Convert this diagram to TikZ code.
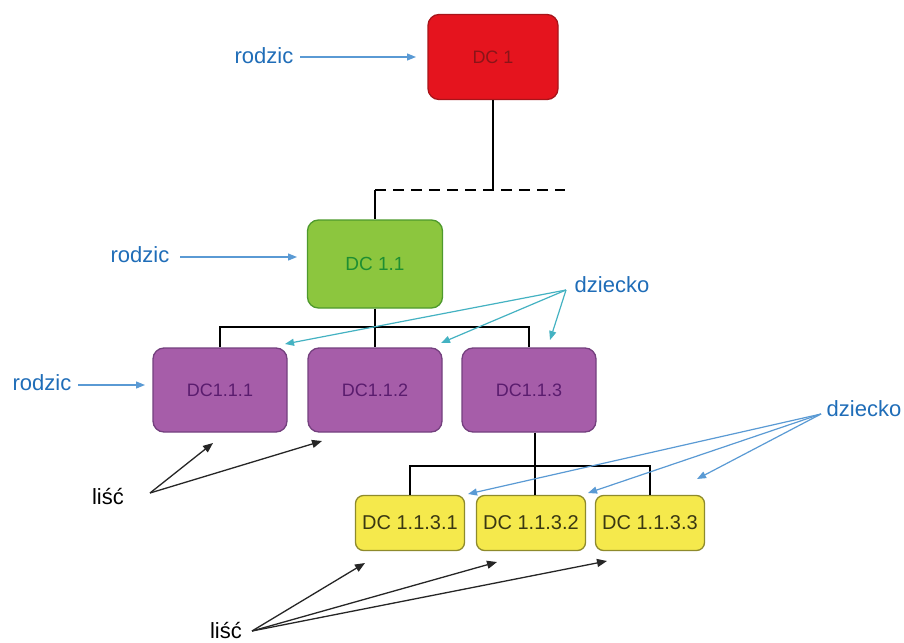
\documentclass[tikz,border=0pt]{standalone}
\usepackage{fontspec}
\setmainfont{Liberation Sans}
\usetikzlibrary{arrows.meta}
\definecolor{redfill}{HTML}{E5141E}
\definecolor{redline}{HTML}{A8141A}
\definecolor{redtext}{HTML}{8A1418}
\definecolor{greenfill}{HTML}{8CC63E}
\definecolor{greenline}{HTML}{4E9A2C}
\definecolor{greentext}{HTML}{1E8E32}
\definecolor{purplefill}{HTML}{A65DA9}
\definecolor{purpleline}{HTML}{74407E}
\definecolor{purpletext}{HTML}{5A1C6E}
\definecolor{yellowfill}{HTML}{F5E94C}
\definecolor{yellowline}{HTML}{8E8A2C}
\definecolor{yellowtext}{HTML}{3A3812}
\definecolor{labelblue}{HTML}{1F6DB8}
\definecolor{arrowblue}{HTML}{5A9AD4}
\definecolor{arrowteal}{HTML}{44B2C2}
\tikzset{
  box/.style={draw, line width=1.3pt, rounded corners=11pt, inner sep=0pt, font=\fontsize{18}{20}\selectfont},
  redbox/.style={box, fill=redfill, draw=redline, text=redtext, minimum width=130pt, minimum height=85pt},
  greenbox/.style={box, fill=greenfill, draw=greenline, text=greentext, minimum width=135pt, minimum height=88pt, font=\fontsize{19}{21}\selectfont},
  purplebox/.style={box, fill=purplefill, draw=purpleline, text=purpletext, minimum width=134pt, minimum height=84pt},
  yellowbox/.style={box, fill=yellowfill, draw=yellowline, text=yellowtext, rounded corners=8pt, minimum width=109pt, minimum height=55pt, font=\fontsize{20}{22}\selectfont},
  tree/.style={line width=2.3pt, black},
  lbl/.style={font=\fontsize{22}{24}\selectfont, inner sep=0pt},
  bluelbl/.style={lbl, text=labelblue},
  blarrow/.style={line width=1.2pt, draw=arrowblue, -{Triangle[length=9pt,width=7pt]}},
  tlarrow/.style={line width=1.2pt, draw=arrowteal, -{Triangle[length=9pt,width=7pt]}},
  bkarrow/.style={line width=1.3pt, draw=black!85, -{Triangle[length=10pt,width=8pt]}}
}
\begin{document}
\begin{tikzpicture}[x=1pt,y=-1pt]
\useasboundingbox[fill=white] (0,0) rectangle (904,642);
% boxes
\node[redbox] (dc1) at (493,57) {DC 1};
\node[greenbox] (dc11) at (375,264) {DC 1.1};
\node[purplebox] (dc111) at (220,390) {DC1.1.1};
\node[purplebox] (dc112) at (375,390) {DC1.1.2};
\node[purplebox] (dc113) at (529,390) {DC1.1.3};
\node[yellowbox] (dc1131) at (410,523) {DC 1.1.3.1};
\node[yellowbox] (dc1132) at (531,523) {DC 1.1.3.2};
\node[yellowbox] (dc1133) at (650,523) {DC 1.1.3.3};
% tree connectors
\coordinate (j1) at (dc1.south |- 0,190);
\coordinate (jend) at (565,190);
\draw[tree] (dc1.south) -- (j1);
\draw[tree, dash pattern=on 11pt off 7pt] (dc11.north |- j1) -- (jend);
\draw[tree] (dc11.north |- j1) -- (dc11.north);
\coordinate (b1) at (375,327);
\draw[tree] (dc11.south) -- (b1);
\draw[tree] (dc111.north) |- (b1) -| (dc113.north);
\draw[tree] (b1) -- (dc112.north);
\coordinate (b2) at (535,466);
\draw[tree] (dc113.south -| b2) -- (dc1132.north -| b2);
\draw[tree] (dc1131.north) |- (b2) -| (dc1133.north);
% labels
\node[bluelbl] (r1) at (264,56) {rodzic};
\node[bluelbl] (r2) at (140,255) {rodzic};
\node[bluelbl] (r3) at (42,383) {rodzic};
\node[bluelbl] (d1) at (612,285) {dziecko};
\node[bluelbl] (d2) at (864,409) {dziecko};
\node[lbl] (l1) at (108,497) {liść};
\node[lbl] (l2) at (226,630) {liść};
% rodzic arrows
\coordinate (r1s) at (300,57); \coordinate (r1e) at (416,57);
\coordinate (r2s) at (180,257); \coordinate (r2e) at (297,257);
\coordinate (r3s) at (78,385); \coordinate (r3e) at (145,385);
\draw[blarrow] (r1s) -- (r1e);
\draw[blarrow] (r2s) -- (r2e);
\draw[blarrow] (r3s) -- (r3e);
% dziecko arrows (top)
\coordinate (d1s) at (566,290);
\coordinate (d1a) at (285,344);
\coordinate (d1b) at (441,343);
\coordinate (d1c) at (550,340);
\draw[tlarrow] (d1s) -- (d1a);
\draw[tlarrow] (d1s) -- (d1b);
\draw[tlarrow] (d1s) -- (d1c);
% dziecko arrows (bottom)
\coordinate (d2s) at (821,414);
\coordinate (d2a) at (468,494);
\coordinate (d2b) at (588,493);
\coordinate (d2c) at (697,479);
\draw[blarrow] (d2s) -- (d2a);
\draw[blarrow] (d2s) -- (d2b);
\draw[blarrow] (d2s) -- (d2c);
% lisc arrows
\coordinate (l1s) at (150,493);
\coordinate (l1a) at (213,443);
\coordinate (l1b) at (322,441);
\draw[bkarrow] (l1s) -- (l1a);
\draw[bkarrow] (l1s) -- (l1b);
\coordinate (l2s) at (252,631);
\coordinate (l2a) at (365,563);
\coordinate (l2b) at (497,562);
\coordinate (l2c) at (607,561);
\draw[bkarrow] (l2s) -- (l2a);
\draw[bkarrow] (l2s) -- (l2b);
\draw[bkarrow] (l2s) -- (l2c);
\end{tikzpicture}
\end{document}
